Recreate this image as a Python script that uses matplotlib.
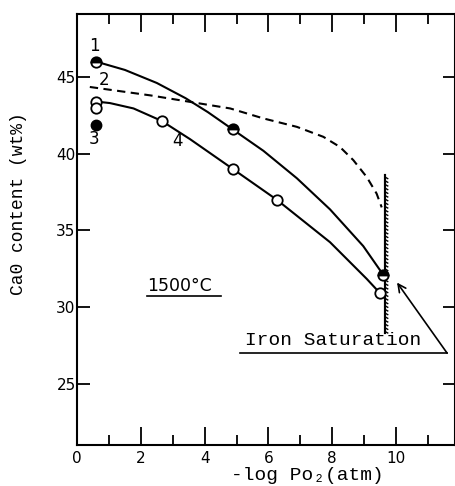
import matplotlib
matplotlib.use("Agg")
import matplotlib.pyplot as plt
import matplotlib.patheffects as pe
from matplotlib.ticker import MultipleLocator

# -----------------------------
# Data
# -----------------------------
# curve 1 (half-filled symbols)
c1_pts_x = [0.6, 4.9, 9.6]
c1_pts_y = [46.0, 41.6, 32.1]
c1_line_x = [0.6, 1.5, 2.5, 3.4, 4.1, 4.88, 5.84, 6.89, 7.93, 8.97, 9.6]
c1_line_y = [46.0, 45.46, 44.61, 43.62, 42.71, 41.58, 40.19, 38.4, 36.37, 33.98, 32.1]

# curve 2 (dashed)
c2_line_x = [0.4, 2.3, 4.8, 5.84, 6.89, 7.72, 8.24, 8.66, 9.08, 9.39, 9.55]
c2_line_y = [44.35, 43.8, 42.95, 42.3, 41.75, 41.1, 40.44, 39.58, 38.48, 37.4, 36.5]

# curve 3 (filled symbol)
c3_pts_x = [0.6]
c3_pts_y = [41.9]

# curve 4 (open symbols)
c4_pts_x = [0.6, 0.6, 2.65, 4.9, 6.26, 9.5]
c4_pts_y = [43.4, 43.0, 42.14, 38.98, 37.0, 30.9]
c4_line_x = [0.6, 1.03, 1.77, 2.65, 3.54, 4.9, 6.26, 7.93, 9.08, 9.5]
c4_line_y = [43.4, 43.3, 42.95, 42.14, 40.95, 38.98, 37.0, 34.23, 31.84, 30.9]

# iron saturation boundary
fe_sat_x = [9.65, 9.65]
fe_sat_y = [38.6, 28.3]

x_ticks = [0, 2, 4, 6, 8, 10]
y_ticks = [25, 30, 35, 40, 45]

MONO = ["Liberation Mono", "DejaVu Sans Mono"]
SANS = ["DejaVu Sans"]

# -----------------------------
# Figure
# -----------------------------
fig = plt.figure(figsize=(4.56, 4.86), dpi=100)
ax = fig.add_axes([0.169, 0.084, 0.829, 0.887])

ax.plot(c1_line_x, c1_line_y, color="black", lw=1.5, zorder=2)
ax.plot(c4_line_x, c4_line_y, color="black", lw=1.5, zorder=2)
ax.plot(c2_line_x, c2_line_y, color="black", lw=1.5,
        linestyle=(0, (4, 2.6)), zorder=2)

ax.plot(fe_sat_x, fe_sat_y, color="black", lw=1.5, zorder=2,
        path_effects=[pe.Stroke(linewidth=1.5),
                      pe.withTickedStroke(angle=60, spacing=2.6, length=0.9,
                                          linewidth=1.0)])

ax.plot(c1_pts_x, c1_pts_y, "o", ms=7.5, mfc="black", mec="black",
        mew=1.3, fillstyle="top", markerfacecoloralt="white", zorder=4)
ax.plot(c4_pts_x, c4_pts_y, "o", ms=7.5, mfc="white", mec="black",
        mew=1.3, zorder=4)
ax.plot(c3_pts_x, c3_pts_y, "o", ms=7.5, mfc="black", mec="black",
        zorder=4)

# curve numbers
for lab, (lx, ly) in zip(["1", "2", "3", "4"],
                         [(0.53, 47.0), (0.85, 44.8), (0.53, 40.95), (3.15, 40.8)]):
    ax.text(lx, ly, lab, fontsize=12, family=SANS, ha="center", va="center")

ax.text(2.2, 31.4, "1500°C", fontsize=12.5, family=SANS, ha="left", va="center")
ax.plot([2.2, 4.5], [30.7, 30.7], color="black", lw=1.2)

ax.text(5.25, 27.8, "Iron Saturation", fontsize=14, family=MONO,
        ha="left", va="center")
ax.plot([5.1, 11.6], [27.0, 27.0], color="black", lw=1.2, clip_on=False)
ax.annotate("", xy=(10.03, 31.6), xytext=(11.6, 27.0),
            arrowprops=dict(arrowstyle="->", color="black", lw=1.2,
                            shrinkA=0, shrinkB=0, mutation_scale=14))

# axes styling
ax.set_xlim(0, 11.85)
ax.set_ylim(21, 49.1)
ax.set_xticks(x_ticks)
ax.set_yticks(y_ticks)
ax.xaxis.set_minor_locator(MultipleLocator(1))
for s in ax.spines.values():
    s.set_linewidth(1.5)

ax.tick_params(axis="x", which="major", direction="in", length=13, width=1.3,
               top=True, labelsize=11, pad=4)
ax.tick_params(axis="x", which="minor", direction="in", length=7, width=1.3,
               top=True)
ax.tick_params(axis="y", which="major", direction="in", length=9, width=1.3,
               right=True, labelsize=11, pad=1)
ax.tick_params(axis="y", which="minor", left=False, right=False)

fig.text(0.04, 0.58, "Ca0 content (wt%)", rotation=90, fontsize=13,
         family=MONO, ha="center", va="center")
fig.text(0.675, 0.022, "-log Po₂(atm)", fontsize=14, family=MONO,
         ha="center", va="center")

fig.savefig("out.png", dpi=100)
